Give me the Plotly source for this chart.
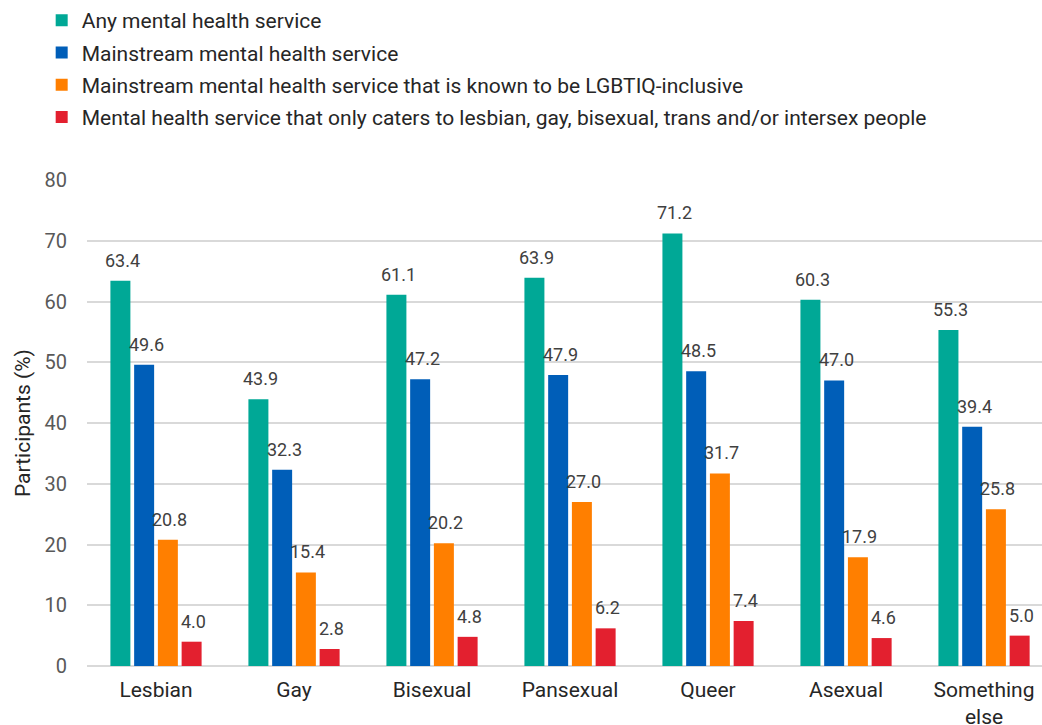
import plotly.graph_objects as go

categories = ["Lesbian", "Gay", "Bisexual", "Pansexual", "Queer", "Asexual", "Something<br>else"]

series_names = [
    "Any mental health service",
    "Mainstream mental health service",
    "Mainstream mental health service that is known to be LGBTIQ-inclusive",
    "Mental health service that only caters to lesbian, gay, bisexual, trans and/or intersex people",
]

any_service = [63.4, 43.9, 61.1, 63.9, 71.2, 60.3, 55.3]
mainstream = [49.6, 32.3, 47.2, 47.9, 48.5, 47.0, 39.4]
lgbtiq_inclusive = [20.8, 15.4, 20.2, 27.0, 31.7, 17.9, 25.8]
lgbti_only = [4.0, 2.8, 4.8, 6.2, 7.4, 4.6, 5.0]

colors = ["#00A896", "#005EB8", "#FF7F00", "#E3202F"]

all_values = [any_service, mainstream, lgbtiq_inclusive, lgbti_only]

FONT = "Roboto, Arial, sans-serif"

fig = go.Figure()
for i, (name, vals, col) in enumerate(zip(series_names, all_values, colors)):
    fig.add_trace(go.Bar(
        x=categories, y=vals, name=name, marker_color=col,
        marker_line_width=0, legendgroup=f"g{i}",
    ))

# value labels above each bar, shifted to the bar's slot within its group
slot_px = 23.75
annotations = []
for i, vals in enumerate(all_values):
    for cat, v in zip(categories, vals):
        annotations.append(dict(
            x=cat, y=v, xref="x", yref="y", text=f"{v:.1f}",
            showarrow=False, yanchor="bottom", xanchor="center",
            xshift=(i - 1.5) * slot_px + 2, yshift=8,
            font=dict(family=FONT, size=18, color="#404040"),
        ))

# y-axis title
annotations.append(dict(
    text="Participants (%)", xref="paper", yref="paper", x=-0.067, y=0.5,
    xanchor="center", yanchor="middle", textangle=-90, showarrow=False,
    font=dict(family=FONT, size=21, color="#262626"),
))

fig.update_layout(
    barmode="group",
    bargap=0.312,
    bargroupgap=0.158,
    width=1042, height=725,
    margin=dict(l=87, r=0, t=180, b=59, autoexpand=False),
    paper_bgcolor="white", plot_bgcolor="white",
    font=dict(family=FONT, color="#404040"),
    showlegend=True,
    legend=dict(
        x=0.040, y=1.0, xref="container", yref="container", xanchor="left", yanchor="top",
        font=dict(family=FONT, size=21, color="#262626"),
        tracegroupgap=2, itemsizing="constant", bgcolor="rgba(0,0,0,0)",
        traceorder="grouped",
    ),
    annotations=annotations,
)

fig.update_xaxes(
    type="category", range=[-0.5, 6.42],
    showgrid=False, showline=False, ticks="",
    tickfont=dict(family=FONT, size=21, color="#262626"),
    ticklabelstandoff=9, tickangle=0,
)
fig.update_yaxes(
    range=[0, 80], dtick=10, showgrid=True, gridcolor="#D9D9D9", gridwidth=1.5,
    zeroline=True, zerolinecolor="#D9D9D9", zerolinewidth=2,
    showline=False, ticks="",
    tickfont=dict(family=FONT, size=20, color="#595959"),
    ticklabelstandoff=19,
)

fig.write_html("out.html")
